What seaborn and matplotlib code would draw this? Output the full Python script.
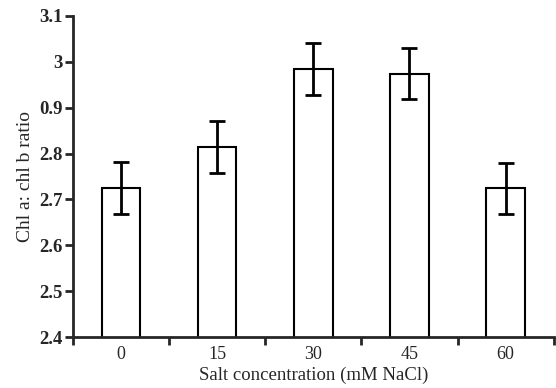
import numpy as np
import pandas as pd
import matplotlib
matplotlib.use("Agg")
import matplotlib.pyplot as plt
import seaborn as sns

# data
salt = ["0", "15", "30", "45", "60"]
ratio = [2.725, 2.815, 2.984, 2.974, 2.724]
err = [0.056, 0.057, 0.056, 0.056, 0.055]
yticks = [2.4, 2.5, 2.6, 2.7, 2.8, 2.9, 3.0, 3.1]
ytick_labels = ["2.4", "2.5", "2.6", "2.7", "2.8", "0.9", "3", "3.1"]

df = pd.DataFrame({"salt": salt, "ratio": ratio})

sns.set_style("ticks")
plt.rcParams["font.family"] = ["Liberation Serif", "DejaVu Serif"]

fig = plt.figure(figsize=(5.56, 3.88), dpi=100)
ax = fig.add_axes([0.131, 0.131, 0.865, 0.828])

sns.barplot(data=df, x="salt", y="ratio", color="white", edgecolor="black",
            linewidth=1.5, width=0.4, errorbar=None, ax=ax)
ax.errorbar(np.arange(len(salt)), ratio, yerr=err, fmt="none", ecolor="black",
            elinewidth=2, capsize=6, capthick=2)

ax.set_ylim(2.4, 3.1)
ax.set_xlim(-0.5, 4.5)
ax.set_yticks(yticks)
ax.set_yticklabels(ytick_labels, fontsize=13.5, fontweight="bold")
ax.tick_params(axis="y", direction="out", length=6, width=2, pad=1)

# category labels centred, tick marks on the boundaries
ax.set_xticks(np.arange(len(salt)))
ax.set_xticklabels(salt, fontsize=13)
ax.tick_params(axis="x", which="major", length=0, pad=6)
ax.set_xticks(np.arange(-0.5, len(salt), 1.0), minor=True)
ax.tick_params(axis="x", which="minor", direction="out", length=6, width=2)

ax.set_xlabel("Salt concentration (mM NaCl)", fontsize=13.5, labelpad=3)
ax.set_ylabel("Chl a: chl b ratio", fontsize=14, labelpad=4)

for side in ["top", "right"]:
    ax.spines[side].set_visible(False)
ax.spines["left"].set_linewidth(2)
ax.spines["bottom"].set_linewidth(2)

fig.savefig("out.png", dpi=100)
